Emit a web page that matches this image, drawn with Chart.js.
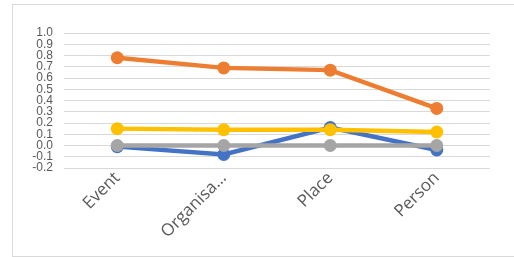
<!DOCTYPE html>
<html>
<head>
<meta charset="utf-8">
<script src="https://cdn.jsdelivr.net/npm/chart.js@4/dist/chart.umd.min.js"></script>
<style>
    html, body { margin: 0; padding: 0; background: #ffffff; }
    #wrap { position: relative; width: 514px; height: 257px; overflow: hidden; }
    #frame {
        position: absolute; left: 12px; top: 4px; width: 510px; height: 251px;
        border: 1px solid #d9d9d9; border-right: none;
    }
    #chart { position: absolute; left: 0; top: 0; }
</style>
</head>
<body>
<div id="wrap">
    <div id="frame"></div>
    <canvas id="chart" width="514" height="257"></canvas>
</div>
<script>
// 類別與各系列數值
const categories = ['Event', 'Organisa…', 'Place', 'Person'];
const blueValues = [-0.01, -0.08, 0.16, -0.04];
const orangeValues = [0.78, 0.69, 0.67, 0.33];
const grayValues = [0.0, 0.0, 0.0, 0.0];
const yellowValues = [0.15, 0.14, 0.14, 0.12];
const yMin = -0.2;
const yMax = 1.0;
const yStep = 0.1;

function makeSeries(label, data, color, order) {
    return {
        label: label,
        data: data,
        borderColor: color,
        backgroundColor: color,
        pointBackgroundColor: color,
        pointBorderColor: color,
        borderWidth: 4.5,
        pointRadius: 6.5,
        pointBorderWidth: 0,
        tension: 0,
        fill: false,
        order: order
    };
}

function initChart() {
    const ctx = document.getElementById('chart');
    if (!ctx) return;

    new Chart(ctx, {
        type: 'line',
        data: {
            labels: categories,
            datasets: [
                makeSeries('Series1', blueValues, '#4472C4', 3),
                makeSeries('Series2', orangeValues, '#ED7D31', 2),
                makeSeries('Series3', grayValues, '#A5A5A5', 1),
                makeSeries('Series4', yellowValues, '#FFC000', 0)
            ]
        },
        options: {
            responsive: false,
            animation: false,
            devicePixelRatio: 1,
            layout: { padding: { left: 0, right: 24, top: 33, bottom: 0 } },
            plugins: {
                legend: { display: false },
                tooltip: { enabled: false }
            },
            scales: {
                x: {
                    offset: true,
                    grid: { display: false, drawTicks: false },
                    border: { display: false },
                    ticks: {
                        color: '#595959',
                        font: { family: 'Open Sans', size: 17 },
                        minRotation: 45,
                        maxRotation: 45,
                        padding: 0,
                        autoSkip: false
                    },
                    afterFit: axis => { axis.height = 89; }
                },
                y: {
                    min: yMin,
                    max: yMax,
                    grid: { color: '#d9d9d9', lineWidth: 1, drawTicks: false },
                    border: { display: false },
                    ticks: {
                        stepSize: yStep,
                        autoSkip: false,
                        color: '#595959',
                        font: { family: 'Liberation Sans', size: 12 },
                        padding: 11,
                        callback: v => {
                            const r = Math.round(v * 10) / 10;
                            return (r === 0 ? 0 : r).toFixed(1);
                        }
                    },
                    afterFit: axis => { axis.width = 64; }
                }
            }
        }
    });
}

document.addEventListener("DOMContentLoaded", () => {
    initChart();
});
</script>
</body>
</html>
